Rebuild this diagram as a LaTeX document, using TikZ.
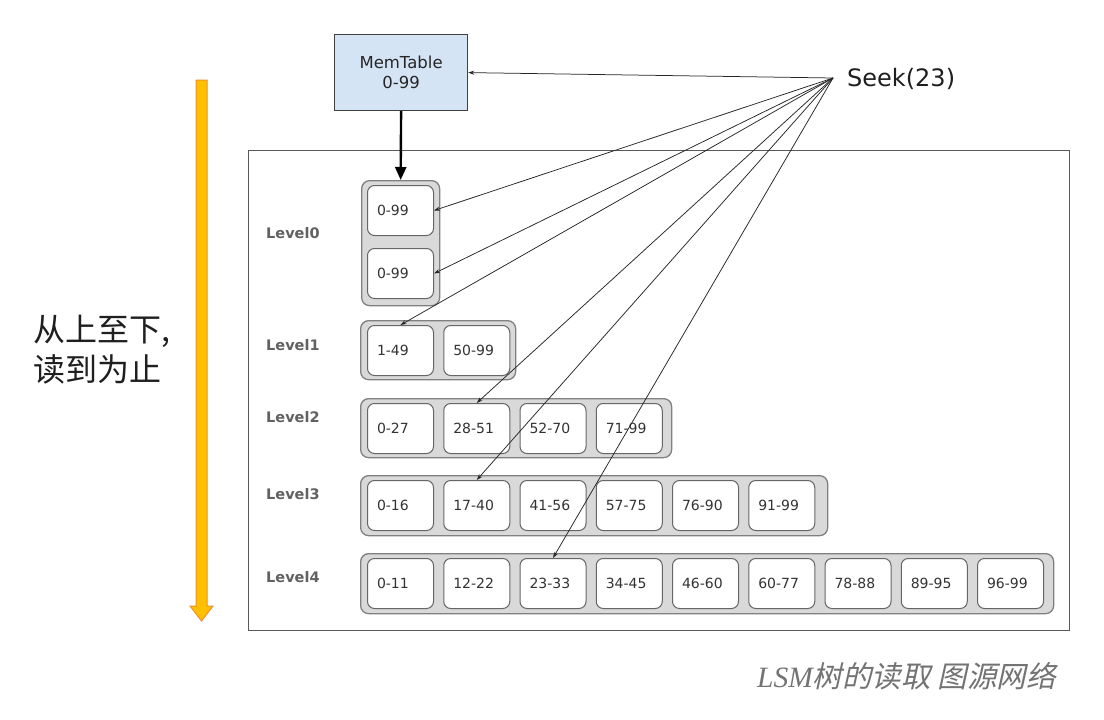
\documentclass[tikz,border=0pt]{standalone}
\usepackage{fontspec}
\setmainfont{DejaVu Sans}
\newfontfamily\cjk{Noto Sans CJK SC}
\newfontfamily\cjkit[FakeSlant=0.22]{Noto Sans CJK SC}
\newfontfamily\serifit{Liberation Serif}
\usetikzlibrary{arrows.meta}
\definecolor{memblue}{HTML}{D5E4F5}
\definecolor{contgray}{HTML}{D9D9D9}
\definecolor{orfill}{HTML}{FFC000}
\definecolor{ordraw}{HTML}{F0902A}
\begin{document}
\begin{tikzpicture}[x=1pt,y=-1pt,
  cont/.style={draw=black!50, fill=contgray, line width=1.3pt, rounded corners=8pt, anchor=north west, inner sep=0pt},
  kbox/.style={draw=black!60, fill=white, line width=1pt, rounded corners=7pt, anchor=north west,
     text width=47pt, inner xsep=9.5pt, inner ysep=0pt, minimum height=50pt, align=left,
     font=\fontsize{14}{16}\selectfont, text=black!80},
  lvl/.style={anchor=west, font=\fontsize{14.5}{16}\selectfont\bfseries, text=black!62, inner sep=0pt},
  seekarr/.style={draw=black!85, line width=0.75pt, -{Stealth[length=6pt,width=4pt]}},
]
\useasboundingbox (0,0) rectangle (1104,720);
\fill[white] (0,0) rectangle (1104,720);

% outer frame
\draw[black!65, line width=0.9pt] (248,150) rectangle (1069,630);

% MemTable
\node[draw=black!75, fill=memblue, line width=1.2pt, minimum width=133pt, minimum height=76pt,
      anchor=north west, align=center, inner sep=0pt,
      font=\fontsize{16.5}{20}\selectfont, text=black!85] (mem) at (334,34) {MemTable\\0-99};

% Seek
\coordinate (seek) at (833,78);
\node[anchor=west, inner sep=0pt, font=\fontsize{24}{26}\selectfont, text=black!88] (seektxt) at (847,79) {Seek(23)};

% Level labels
\node[lvl] (lab0) at (266,233) {Level0};
\node[lvl] (lab1) at (266,345) {Level1};
\node[lvl] (lab2) at (266,417) {Level2};
\node[lvl] (lab3) at (266,494) {Level3};
\node[lvl] (lab4) at (266,577) {Level4};

% Level0
\node[cont, minimum width=78pt, minimum height=125pt] (L0c) at (361,180) {};
\node[kbox] (L0a) at (367,185) {0-99};
\node[kbox] (L0b) at (367,248) {0-99};

% Level1
\node[cont, minimum width=155pt, minimum height=59pt] (L1c) at (360,320) {};
\foreach \t [count=\i from 0] in {1-49,50-99}
  \node[kbox] (L1\i) at ({367+76.25*\i},325) {\t};

% Level2
\node[cont, minimum width=311pt, minimum height=59pt] (L2c) at (360,398) {};
\foreach \t [count=\i from 0] in {0-27,28-51,52-70,71-99}
  \node[kbox] (L2\i) at ({367+76.25*\i},403) {\t};

% Level3
\node[cont, minimum width=467pt, minimum height=60pt] (L3c) at (360,475) {};
\foreach \t [count=\i from 0] in {0-16,17-40,41-56,57-75,76-90,91-99}
  \node[kbox] (L3\i) at ({367+76.25*\i},480) {\t};

% Level4
\node[cont, minimum width=693pt, minimum height=60pt] (L4c) at (360,553) {};
\foreach \t [count=\i from 0] in {0-11,12-22,23-33,34-45,46-60,60-77,78-88,89-95,96-99}
  \node[kbox] (L4\i) at ({367+76.25*\i},558) {\t};

% MemTable -> Level0
\draw[black, line width=2.4pt, -{Triangle[length=13pt,width=11pt]}] (mem.south) -- (L0c.north);

% Seek arrows
\draw[seekarr] (seek) -- (mem.east);
\draw[seekarr] (seek) -- (L0a.east);
\draw[seekarr] (seek) -- (L0b.east);
\draw[seekarr] (seek) -- (L10.north);
\draw[seekarr] (seek) -- (L21.north);
\draw[seekarr] (seek) -- (L31.north);
\draw[seekarr] (seek) -- (L42.north);

% orange arrow
\draw[ordraw, fill=orfill, line width=1pt, line join=miter]
  (196,80) -- (207,80) -- (207,606) -- (213,606) -- (201.5,621) -- (190,606) -- (196,606) -- cycle;

% Chinese text
\node[anchor=west, align=left, inner sep=0pt, font=\cjk\fontsize{32}{40}\selectfont, text=black!88] (side) at (33,350)
  {从上至下,\\读到为止};

% caption
\node[anchor=west, inner sep=0pt, text=black!55, font=\fontsize{29.5}{32}\selectfont] (cap) at (757,676)
  {{\serifit\itshape LSM}{\cjkit 树的读取 图源网络}};
\end{tikzpicture}
\end{document}
